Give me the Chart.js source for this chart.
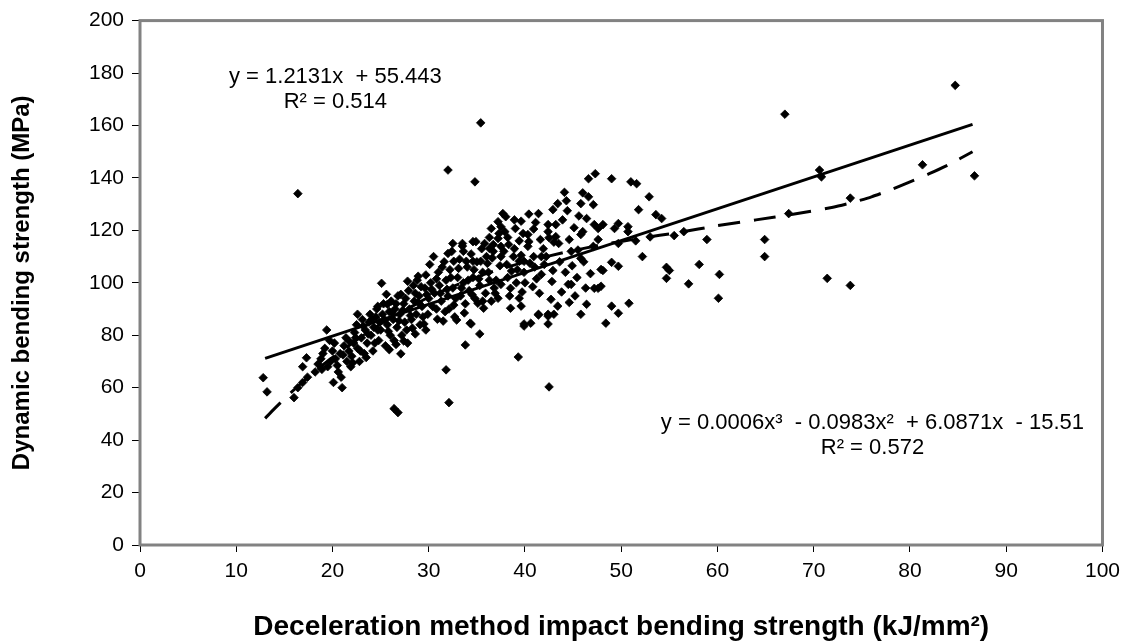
<!DOCTYPE html>
<html>
<head>
<meta charset="utf-8">
<script src="https://cdn.jsdelivr.net/npm/chart.js@4"></script>
<style>
  html, body { margin: 0; padding: 0; background: #fff; }
  #wrap { width: 1127px; height: 644px; position: relative; }
</style>
</head>
<body>
<div id="wrap"><canvas id="chart"></canvas></div>
<script>
// measured points (impact bending strength kJ/mm2, dynamic bending strength MPa)
const scatterPoints = [
  [12.8,63.8],[13.2,58.4],[16.0,56.2],[16.4,60],[16.9,62],[17.4,64],[16.9,68],[17.3,71.4],[16.4,134],
  [26.4,52],[26.8,50.5],[32.1,54.3],[31.8,66.8],[33.8,76.3],[35.3,80.5],[39.3,71.7],[42.5,60.3],
  [32,143],[34.8,138.5],[35.4,161],
  [67,164.3],[84.7,175.3],[70.6,143],[70.8,140.4],[81.3,145],[86.7,140.8],[73.8,132.3],[67.4,126.4],
  [71.4,101.7],[73.8,99],[64.9,116.5],[64.9,110],[60.2,103.2],[60.1,94.1],[57,99.6],[58.1,107],[58.9,116.5],
  [54.7,105.9],[55,104.7],[54.7,101.7],[52.2,110],[50.8,92.2],[49,91.1],[49.7,88.4],[48.4,84.6],[46.4,91.8],
  [48.1,104.7],[49,107.8],[49.7,106.3],[47.2,97.9],[47.9,98.7],[49.7,115],
  [46.6,139.7],[47.3,141.6],[49,139.7],[51,138.5],[51.6,137.8],[52.9,132.8],[51.8,127.9],[53.6,126],[54.2,124.5],
  [49.7,122.6],[49.3,120.7],[50.7,121.4],[50.7,119.5],[47.2,122.2],[48.1,122.2],[46,119.5],[45.8,118.4],[47.6,116.5],[47.1,113.9],
  [44.1,134.5],[44.3,131.3],[43.4,130.2],[42.9,127.9],[46,134.3],[45.8,130.2],[46.6,132.8],[47.1,129.8],[46.4,124.5],[47.6,120.7],
  [40.4,126.2],[41.4,126.4],[42.4,122.2],[43.2,122.2],[42.4,119.5],[42.5,117.2],[43,115.5],[43.5,115],[43.2,117.6],
  [37.7,126.4],[38,125.2],[37.2,123.3],[37.5,121.4],[38.9,124],[39,120.7],[36.5,120.7],[36.3,117.3],[36.7,114.6],
  [37.3,118.8],[37.2,116.9],[38.2,117.3],[38.3,114.6],[37.5,113.9],[39.8,118.8],[40.3,118.4],[40.4,115.7],[40.3,113.9],
  [32.5,115],[33.5,115],[34.6,115.7],[34.9,115.7],[36.3,113.1],[36.7,112],[37.5,110],[38.8,110],[39.4,108.2],
  [39.9,108.2],[40.9,110],[41.7,110],[42.2,110],
  [30.5,110],[32,111.2],[32.6,108.2],[33.6,112],[33.9,108.2],[34.6,108.2],[35.4,108.2],[36.1,107.4],
  [44.8,112],[45.8,109.3],[47.9,105.1],[41.7,103.2],[42.9,104.7],[44.5,99.4],[47.6,97.9],[44.8,99.4],[41.5,96],[42.7,93.7],
  [37.5,99.4],[38.5,97.9],[39.4,94.1],[43.4,91.1],[43,88],[42.4,88],
  [38.5,90.3],[39.6,91.1],[39.9,84.3],[40.6,84.6],[41.4,88],[42.4,84.3],[35.1,92.2],[35.7,90.3],[36.5,93],[37.2,94.1],[34.4,84.3],
  [42.4,87.3],[41.4,87.7],[39.9,83.5],
  [27.1,72.9],[27.4,77.8],[27.8,77],[28.3,82.7],[29.5,84.3],[30.9,86.1],[31.5,85.4],[32.9,85.8],[34.3,84.6],
  [19.4,82],[25.1,99.8],[25.6,95.6],[22.6,88],[24.7,91],[25.7,91.8],[27.8,100.6],[28.9,102.5],[27.1,95.6],
  [51.5,116],[53,117.5],[55.5,118],[56.5,119.5],[45.5,112.5],
  [36.8,98],[38.2,102],[39.2,105],[40,100],[41,106],[40.8,98.5],
  [18.2,66],[18.5,69],[18.8,71],[19.0,73],[19.2,75],[19.5,68],[19.8,70],[20.0,74],[20.2,77],[20.3,71],
  [20.6,66],[20.1,62],[21.0,60],[20.8,73],[21.2,76],[21.4,79],[21.5,70],[21.7,74],[21.9,68],
  [22.0,72],[22.2,77],[22.3,81],[22.5,84],[22.6,75],[22.8,70],[23.0,79],[23.1,86],[23.3,73],[23.4,82],
  [23.6,77],[23.8,85],[23.9,88],[24.0,80],[24.2,74],[24.3,83],[24.5,87],[24.6,90],[24.8,78],[24.9,85],
  [25.0,82],[25.2,88],[25.3,92],[25.5,76],[25.7,84],[25.9,89],[26.0,80],[26.1,93],[26.3,86],[26.4,78],
  [26.5,90],[26.7,83],[26.8,95],[27.0,88],[27.2,80],[27.4,92],[27.5,85],
  [27.9,97],[28.0,90],[28.2,86],[28.4,99],[28.5,93],[28.7,88],[28.8,101],[29.0,95],[29.1,84],[29.3,91],
  [29.6,98],[29.7,103],[29.9,88],[30.0,94],[30.1,107],[30.2,100],[30.4,91],
  [30.6,96],[31.0,104],[31.1,99],[31.3,93],[31.6,108],[31.8,101],[32.0,95],[32.1,90],[32.2,105],[32.4,112],
  [32.5,98],[32.7,87],[33.0,102],[33.2,109],[33.3,95],[33.5,114],[33.6,100],
  [33.8,92],[34.0,106],[34.2,97],[34.4,111],[34.6,102],[34.8,94],[35.0,108],[35.3,99],[35.5,113],[35.6,104],
  [35.9,96],[36.0,110],[36.3,101],
  // denser part of the cloud
  [20.5,68.5],[21.1,72.5],[21.8,77.5],[22.4,79],[22.9,74],[23.2,83.5],[23.7,80.5],[24.1,86],[24.4,77],[24.7,82],
  [22.1,69.5],[23.5,71.5],[20.9,64],[19.7,78],[18.9,67],
  [25.4,86],[25.8,81.5],[26.2,88.5],[26.6,92],[26.9,85.5],[27.3,89.5],[27.6,94],[28.1,87.5],[28.6,96],[28.9,92.5],
  [29.2,98.5],[29.4,87],[29.8,95.5],[25.9,74.5],[26.6,76.5],[27.7,82],[28.6,80.5],[29.7,82],
  [30.3,97.5],[30.8,101.5],[31.2,96],[31.4,106],[31.7,89],[31.9,97.5],[32.3,102],[32.8,94],[33.1,105.5],[33.4,98],
  [33.7,88.5],[34.1,101],[34.5,95.5],[34.7,105],[35.2,101.5],[35.6,93],[30.8,90],[32.6,91.5],[35.8,115],
  [36.2,104],[36.6,109.5],[37,101],[37.4,106.5],[37.8,112],[38.1,107],[38.6,104.5],[38.9,113],[39.1,100],[39.6,110.5],
  [39.9,104],[40.5,107.5],[36.9,96],[38.4,95],[39.7,96.5],[37.9,119.5],[39.4,116],[40.9,120.5],[41.6,116.5],[41.9,113],
  [41.2,101.5],[42,107],[42.8,100.5],[43.6,108],[44.2,104],[44.9,106.5],[45.4,102],[46.1,108],[46.8,103.5],[43.8,96.5],
  [45.2,95],[46.3,98],[44.6,116.5],[45.1,121],[45.6,125.5],[44.4,127.5],[43.9,124],[41.1,123],[39.6,123.5],[44.6,92.5],[45.8,88]
];

// linear trend line, read at its two ends
const linearX = [13, 86.5];
const linearY = [71.2, 160.4];

// polynomial trend line
const polyX = [13, 14, 15, 16, 17, 18, 20, 22, 24, 26, 28, 30, 33, 36, 40, 44, 48, 52, 56, 60, 64, 68, 72, 74, 76, 78, 80, 82, 84, 86.5];
const polyY = [48.3, 52.1, 55.7, 59.2, 62.5, 65.8, 71.5, 76.8, 82, 86.5, 90.5, 94.5, 99.3, 103.5, 108, 111.5, 114.5, 117, 119.2, 121.8, 124, 126.2, 128.8, 130.6, 132.8, 135.5, 138.5, 141.6, 145, 150];

const linearLabel = ['y = 1.2131x  + 55.443', 'R\u00b2 = 0.514'];
const polyLabel = ['y = 0.0006x\u00b3  - 0.0983x\u00b2  + 6.0871x  - 15.51', 'R\u00b2 = 0.572'];

const xTitle = 'Deceleration method impact bending strength (kJ/mm\u00b2)';
const yTitle = 'Dynamic bending strength (MPa)';

const FONT = "'Liberation Sans', Arial, sans-serif";

// gray frame round the plot area
const framePlugin = {
  id: 'frame',
  beforeDatasetsDraw(chart) {
    const a = chart.chartArea;
    const ctx = chart.ctx;
    ctx.save();
    ctx.strokeStyle = '#828282';
    ctx.lineWidth = 3;
    ctx.strokeRect(a.left, a.top, a.right - a.left, a.bottom - a.top);
    ctx.restore();
  }
};

// trend line equations, placed in data units
const notes = [
  { lines: linearLabel, x: 20.3, y: [178.4, 169] },
  { lines: polyLabel, x: 76.1, y: [46.7, 37.2] }
];
const notePlugin = {
  id: 'notes',
  afterDatasetsDraw(chart) {
    const ctx = chart.ctx;
    const xs = chart.scales.x, ys = chart.scales.y;
    ctx.save();
    ctx.fillStyle = '#000';
    ctx.font = '22px ' + FONT;
    ctx.textAlign = 'center';
    ctx.textBaseline = 'middle';
    notes.forEach(n => {
      n.lines.forEach((t, i) => {
        ctx.fillText(t, xs.getPixelForValue(n.x), ys.getPixelForValue(n.y[i]));
      });
    });
    ctx.restore();
  }
};

const ctx = document.getElementById('chart').getContext('2d');
const chart = new Chart(ctx, {
  type: 'scatter',
  data: {
    datasets: [
      {
        label: 'linear',
        data: linearX.map((x, i) => ({ x: x, y: linearY[i] })),
        showLine: true,
        borderColor: '#000',
        borderWidth: 3,
        pointRadius: 0,
        order: 0
      },
      {
        label: 'poly',
        data: polyX.map((x, i) => ({ x: x, y: polyY[i] })),
        showLine: true,
        borderColor: '#000',
        borderWidth: 3,
        borderDash: [22, 14],
        tension: 0.2,
        pointRadius: 0,
        order: 0
      },
      {
        label: 'data',
        data: scatterPoints.map(p => ({ x: p[0], y: p[1] })),
        pointStyle: 'rectRot',
        pointRadius: 4.3,
        pointBackgroundColor: '#000',
        pointBorderColor: '#000',
        pointBorderWidth: 0.8,
        order: 1
      }
    ]
  },
  options: {
    responsive: true,
    maintainAspectRatio: false,
    animation: false,
    layout: { padding: { top: 18, right: 24, left: 0, bottom: 0 } },
    plugins: {
      legend: { display: false },
      tooltip: { enabled: false }
    },
    scales: {
      x: {
        type: 'linear',
        min: 0,
        max: 100,
        afterFit: s => { s.height = 99; },
        ticks: { stepSize: 10, color: '#000', font: { size: 21, family: FONT }, padding: 7 },
        grid: { drawOnChartArea: false, drawTicks: true, tickLength: 7, color: '#000' },
        border: { display: false },
        title: {
          display: true,
          text: xTitle,
          color: '#000',
          font: { size: 28, weight: 'bold', family: FONT },
          padding: { top: 0, bottom: 0 }
        }
      },
      y: {
        min: 0,
        max: 200,
        afterFit: s => { s.width = 140; },
        ticks: { stepSize: 20, color: '#000', font: { size: 21, family: FONT }, padding: 8 },
        grid: { drawOnChartArea: false, drawTicks: true, tickLength: 8, color: '#000' },
        border: { display: false },
        title: {
          display: true,
          text: yTitle,
          color: '#000',
          font: { size: 24, weight: 'bold', family: FONT },
          padding: { top: 8, bottom: 0 }
        }
      }
    }
  },
  plugins: [framePlugin, notePlugin]
});
</script>
</body>
</html>
